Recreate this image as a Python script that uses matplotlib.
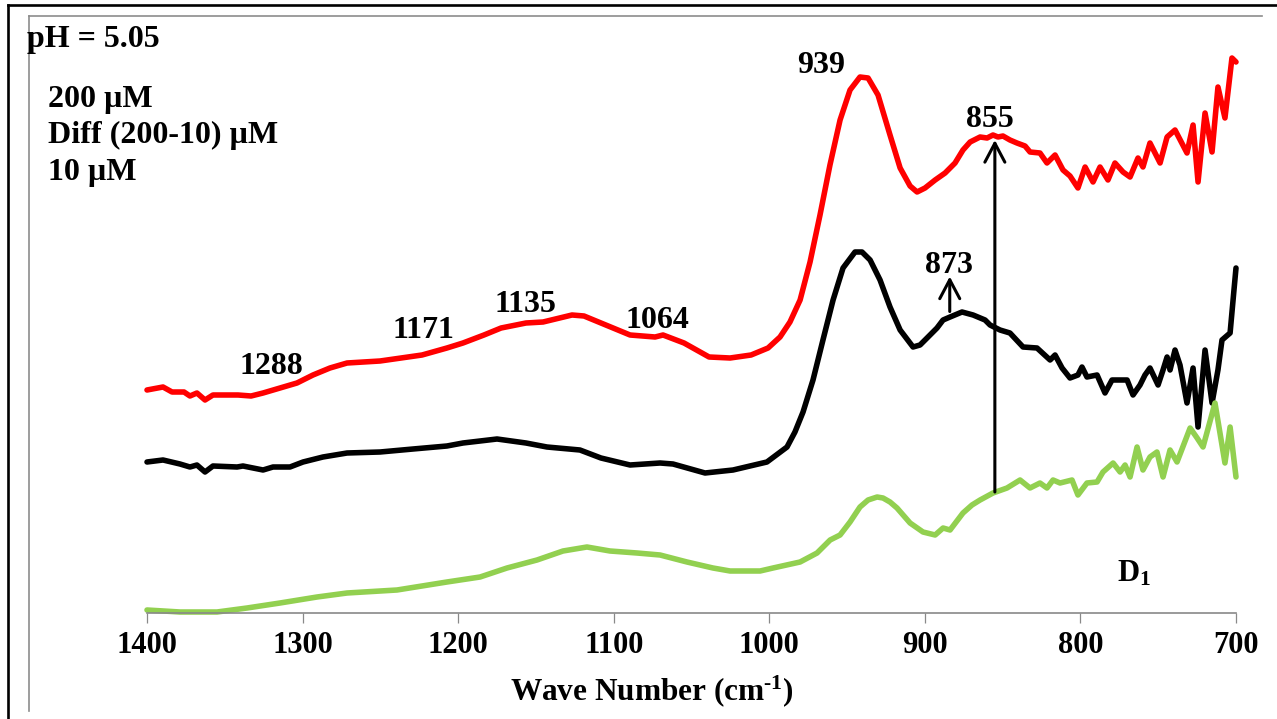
import matplotlib
matplotlib.use("Agg")
import matplotlib.pyplot as plt
from matplotlib.lines import Line2D

plt.rcParams['font.family'] = ['Liberation Serif', 'DejaVu Serif']
plt.rcParams['font.weight'] = 'bold'
plt.rcParams['mathtext.fontset'] = 'custom'
plt.rcParams['mathtext.rm'] = 'Liberation Serif:bold'
plt.rcParams['mathtext.it'] = 'Liberation Serif:bold'
plt.rcParams['mathtext.bf'] = 'Liberation Serif:bold'

# ---- FTIR spectra (wavenumber in cm-1, absorbance with vertical offsets) ----
wn_200 = [1400, 1389.7, 1383.9, 1376.2, 1372.4, 1367.9, 1362.7, 1357.6, 1341.5, 1333.1,
          1325.4, 1314.5, 1303.6, 1293.3, 1282.4, 1271.4, 1250.2, 1223.2, 1207.2, 1196.9,
          1183.4, 1172.4, 1156.4, 1145.4, 1126.8, 1119.1, 1108.2, 1089.5, 1073.4, 1068.3,
          1054.8, 1038.7, 1025.2, 1011.7, 1000.8, 993.1, 986.7, 980.2, 973.8, 967.4,
          961.0, 954.5, 948.1, 941.7, 936.5, 930.1, 922.4, 915.9, 909.5, 905.0,
          899.9, 893.4, 887.0, 880.6, 875.5, 870.9, 864.5, 860.0, 856.2, 853.0,
          849.8, 845.3, 840.8, 835.6, 832.4, 826.0, 821.5, 816.3, 811.2, 806.7,
          801.6, 797.0, 791.9, 787.4, 782.3, 777.8, 772.6, 768.1, 763.0, 759.8,
          755.3, 748.8, 744.3, 739.2, 731.5, 727.6, 724.4, 719.9, 715.4, 711.6,
          707.1, 702.6, 700]
abs_200 = [0.446, 0.452, 0.442, 0.442, 0.434, 0.440, 0.426, 0.436, 0.436, 0.434,
           0.440, 0.450, 0.460, 0.476, 0.490, 0.500, 0.504, 0.516, 0.530, 0.540,
           0.556, 0.570, 0.580, 0.582, 0.596, 0.594, 0.580, 0.556, 0.552, 0.556,
           0.540, 0.512, 0.510, 0.516, 0.530, 0.552, 0.582, 0.626, 0.702, 0.796,
           0.896, 0.986, 1.046, 1.072, 1.070, 1.036, 0.956, 0.890, 0.854, 0.842,
           0.850, 0.866, 0.880, 0.900, 0.926, 0.942, 0.952, 0.950, 0.956, 0.952,
           0.954, 0.946, 0.940, 0.934, 0.922, 0.920, 0.900, 0.916, 0.886, 0.874,
           0.850, 0.892, 0.862, 0.892, 0.866, 0.900, 0.882, 0.872, 0.910, 0.892,
           0.940, 0.900, 0.952, 0.966, 0.920, 0.976, 0.862, 1.000, 0.922, 1.052,
           0.990, 1.110, 1.102]

wn_diff = [1400, 1389.7, 1378.8, 1372.4, 1367.9, 1362.7, 1357.6, 1342.1, 1338.3, 1325.4,
           1319.0, 1308.1, 1299.7, 1286.9, 1271.4, 1250.2, 1229.0, 1207.2, 1196.9, 1185.9,
           1175.0, 1156.4, 1142.9, 1121.7, 1108.2, 1089.5, 1070.2, 1061.9, 1041.3, 1023.3,
           1001.5, 988.6, 983.5, 978.3, 971.9, 965.5, 959.0, 952.6, 944.9, 940.4,
           935.2, 928.8, 922.4, 915.9, 907.6, 903.1, 898.6, 892.2, 888.3, 883.8,
           876.1, 869.0, 861.3, 858.1, 851.7, 845.3, 836.9, 827.9, 819.5, 816.3,
           811.8, 806.7, 801.6, 799.0, 795.8, 789.3, 784.2, 779.7, 770.0, 766.2,
           761.7, 758.5, 755.3, 750.1, 746.9, 744.3, 742.4, 739.2, 736.0, 731.5,
           727.6, 724.4, 719.9, 715.4, 711.6, 709.0, 703.8, 701.3, 700]
abs_diff = [0.302, 0.306, 0.298, 0.292, 0.296, 0.282, 0.294, 0.292, 0.294, 0.286,
            0.292, 0.292, 0.302, 0.312, 0.320, 0.322, 0.328, 0.334, 0.340, 0.344,
            0.348, 0.340, 0.332, 0.326, 0.310, 0.296, 0.300, 0.298, 0.280, 0.286,
            0.302, 0.332, 0.362, 0.402, 0.466, 0.546, 0.626, 0.690, 0.722, 0.722,
            0.706, 0.666, 0.612, 0.566, 0.532, 0.536, 0.550, 0.570, 0.586, 0.592,
            0.602, 0.596, 0.586, 0.576, 0.566, 0.560, 0.532, 0.530, 0.506, 0.516,
            0.490, 0.470, 0.476, 0.492, 0.472, 0.476, 0.440, 0.466, 0.466, 0.436,
            0.456, 0.476, 0.490, 0.456, 0.486, 0.512, 0.486, 0.526, 0.496, 0.420,
            0.490, 0.372, 0.526, 0.420, 0.486, 0.546, 0.560, 0.646, 0.690]

wn_10 = [1400, 1378.8, 1355.0, 1335.7, 1314.5, 1290.7, 1271.4, 1239.3, 1207.2, 1185.9,
         1168.6, 1149.3, 1132.6, 1117.2, 1102.4, 1085.0, 1070.2, 1052.9, 1036.2, 1025.2,
         1005.9, 997.6, 980.2, 969.3, 960.9, 954.5, 948.1, 941.7, 936.5, 930.7,
         926.9, 922.4, 917.9, 909.5, 901.2, 893.4, 888.3, 883.8, 875.5, 869.7,
         864.5, 856.2, 847.2, 838.8, 832.4, 826.0, 821.5, 817.6, 813.1, 805.4,
         801.6, 795.8, 789.3, 785.5, 779.0, 774.5, 771.3, 768.1, 763.6, 759.8,
         755.3, 750.8, 746.9, 742.4, 737.9, 729.5, 725.0, 721.2, 713.5, 707.1,
         703.8, 700]
abs_10 = [0.006, 0.002, 0.002, 0.010, 0.020, 0.032, 0.040, 0.046, 0.062, 0.072,
          0.090, 0.106, 0.124, 0.132, 0.124, 0.120, 0.116, 0.102, 0.090, 0.084,
          0.084, 0.090, 0.102, 0.120, 0.146, 0.156, 0.182, 0.212, 0.226, 0.232,
          0.230, 0.222, 0.210, 0.180, 0.162, 0.156, 0.170, 0.166, 0.200, 0.216,
          0.226, 0.240, 0.250, 0.266, 0.250, 0.260, 0.250, 0.266, 0.260, 0.266,
          0.236, 0.260, 0.262, 0.282, 0.300, 0.282, 0.296, 0.272, 0.332, 0.286,
          0.312, 0.322, 0.272, 0.326, 0.302, 0.370, 0.350, 0.332, 0.420, 0.300,
          0.372, 0.272]

x_ticks = [1400, 1300, 1200, 1100, 1000, 900, 800, 700]

# peak labels: (text, wavenumber position, baseline height)
peak_labels = [("939", 966.8, 1.080), ("855", 858.1, 0.972), ("873", 884.5, 0.680),
               ("1288", 1319.8, 0.478), ("1171", 1222.1, 0.550),
               ("1135", 1156.5, 0.602), ("1064", 1072.2, 0.570)]

# arrows: (wavenumber, start height, tip height)
arrows = [(855, 0.242, 0.946), (884, 0.603, 0.673)]

series_names = ["200 µM", "Diff (200-10) µM", "10 µM"]

W, H = 1277, 719
fig = plt.figure(figsize=(W / 100, H / 100), dpi=100)


def fx(px):
    return px / W


def fy(py):
    return 1 - py / H


# outer chart border and inner plot-area border
fig.add_artist(Line2D([fx(8), fx(1290)], [fy(5), fy(5)], color='black', lw=1.9))
fig.add_artist(Line2D([fx(8), fx(8)], [fy(5), fy(730)], color='black', lw=1.9))
fig.add_artist(Line2D([fx(28.5), fx(1262)], [fy(16), fy(16)], color='#8c8c8c', lw=1.2))
fig.add_artist(Line2D([fx(28.5), fx(28.5)], [fy(16), fy(711)], color='#8c8c8c', lw=1.2))

ax = fig.add_axes([fx(147), fy(613), fx(1236) - fx(147), fy(16) - fy(613)])
ax.set_xlim(1400, 700)
ax.set_ylim(0, 1.194)
for s in ['left', 'right', 'top']:
    ax.spines[s].set_visible(False)
ax.spines['bottom'].set_color('#898989')
ax.spines['bottom'].set_linewidth(1.2)
ax.set_yticks([])
ax.set_xticks(x_ticks)
ax.set_xticklabels([str(t) for t in x_ticks])
ax.tick_params(axis='x', direction='out', length=7.2, width=0.9, color='#898989',
               pad=6, labelsize=22)
for lab in ax.get_xticklabels():
    lab.set_fontweight('bold')
ax.patch.set_alpha(0)

line_kw = dict(lw=4.0, solid_joinstyle='round', solid_capstyle='round', clip_on=False)
ax.plot(wn_200, abs_200, color='#ff0000', **line_kw)
ax.plot(wn_diff, abs_diff, color='black', **line_kw)
ax.plot(wn_10, abs_10, color='#92d050', **line_kw)

for wn, y0, y1 in arrows:
    ax.annotate('', xy=(wn, y1), xytext=(wn, y0),
                arrowprops=dict(arrowstyle='->,head_length=0.68,head_width=0.36',
                                lw=2.2, color='black', mutation_scale=20,
                                shrinkA=0, shrinkB=0))

for txt, wn, y in peak_labels:
    ax.text(wn, y, txt, ha='center', va='baseline', fontsize=23, fontweight='bold')

ax.text(776.5, 0.062, r'D$_{1}$', ha='left', va='baseline', fontsize=22, fontweight='bold')

fig.text(fx(27), fy(47), "pH = 5.05", ha='left', va='baseline', fontsize=23, fontweight='bold')
for name, base in zip(series_names, [107, 143, 180]):
    fig.text(fx(48), fy(base), name, ha='left', va='baseline', fontsize=23, fontweight='bold')

fig.text(fx(652), fy(700), r'Wave Number (cm$^{\text{-}1}$)', ha='center', va='baseline',
         fontsize=22.5, fontweight='bold')

fig.savefig('out.png', dpi=100)
